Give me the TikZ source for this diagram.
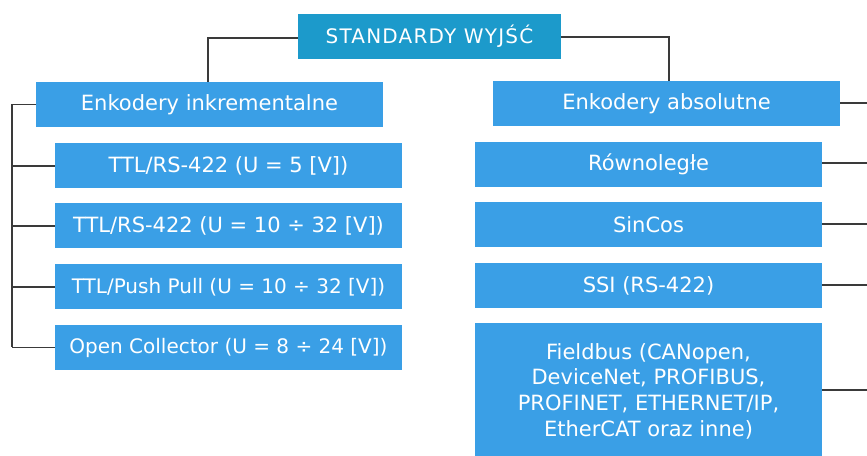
\documentclass[tikz,border=0pt]{standalone}
\usepackage{fontspec}
\setmainfont{DejaVu Sans}
\definecolor{teal}{HTML}{1C9ACB}
\definecolor{boxblue}{HTML}{3A9FE6}
\definecolor{lineg}{HTML}{3A3A3A}
\begin{document}
\begin{tikzpicture}[x=1pt,y=1pt,
  box/.style={fill=boxblue, text=white, minimum width=347pt, minimum height=45pt, inner sep=0pt, font=\fontsize{21}{25}\selectfont, align=center},
  narrow/.style={font=\fontsize{20}{24}\selectfont},
  topbox/.style={fill=teal, text=white, minimum width=263pt, minimum height=45pt, inner sep=0pt, font=\fontsize{20}{24}\addfontfeatures{LetterSpace=6}\selectfont},
  conn/.style={draw=lineg, line width=1.5pt}]
\useasboundingbox (0,0) rectangle (867,455);
\fill[white] (0,0) rectangle (867,455);
% nodes
\node[topbox] (top) at (429.5,418.5) {STANDARDY WYJŚĆ};
\node[box] (lh) at (209.5,350.5) {Enkodery inkrementalne};
\node[box] (rh) at (666.5,351.5) {Enkodery absolutne};
\node[box] (l1) at (228.5,289) {TTL/RS-422 (U = 5 [V])};
\node[box] (l2) at (228.5,229) {TTL/RS-422 (U = 10 ÷ 32 [V])};
\node[box, narrow] (l3) at (228.5,168) {TTL/Push Pull (U = 10 ÷ 32 [V])};
\node[box, narrow] (l4) at (228.5,107.5) {Open Collector (U = 8 ÷ 24 [V])};
\node[box] (r1) at (648.5,290.5) {Równoległe};
\node[box] (r2) at (648.5,230) {SinCos};
\node[box] (r3) at (648.5,169.5) {SSI (RS-422)};
\node[box, minimum height=137pt] (r4) at (648.5,63.5) {};
\node[text=white, font=\fontsize{21}{25.7}\selectfont, align=center, inner sep=0pt] (r4t) at (648.5,64) {Fieldbus (CANopen,\\DeviceNet, PROFIBUS,\\PROFINET, ETHERNET/IP,\\EtherCAT oraz inne)};
% coordinates
\coordinate (tl) at (208,417);
\coordinate (tr) at (669,418);
\coordinate (lb) at (12,350.5);
\coordinate (lbb) at (12,107.5);
\coordinate (e0) at (867,352);
\coordinate (e1) at (867,292);
\coordinate (e2) at (867,231);
\coordinate (e3) at (867,170);
\coordinate (e4) at (867,65);
% connectors
\draw[conn] (top.west |- tl) -- (tl) -- (tl |- lh.north);
\draw[conn] (top.east |- tr) -- (tr) -- (tr |- rh.north);
\draw[conn] (lh.west) -- (lb) -- (lbb);
\draw[conn] (lb |- l1.west) -- (l1.west);
\draw[conn] (lb |- l2.west) -- (l2.west);
\draw[conn] (lb |- l3.west) -- (l3.west);
\draw[conn] (lbb) -- (l4.west);
\draw[conn] (rh.east |- e0) -- (e0);
\draw[conn] (r1.east |- e1) -- (e1);
\draw[conn] (r2.east |- e2) -- (e2);
\draw[conn] (r3.east |- e3) -- (e3);
\draw[conn] (r4.east |- e4) -- (e4);
\end{tikzpicture}
\end{document}
